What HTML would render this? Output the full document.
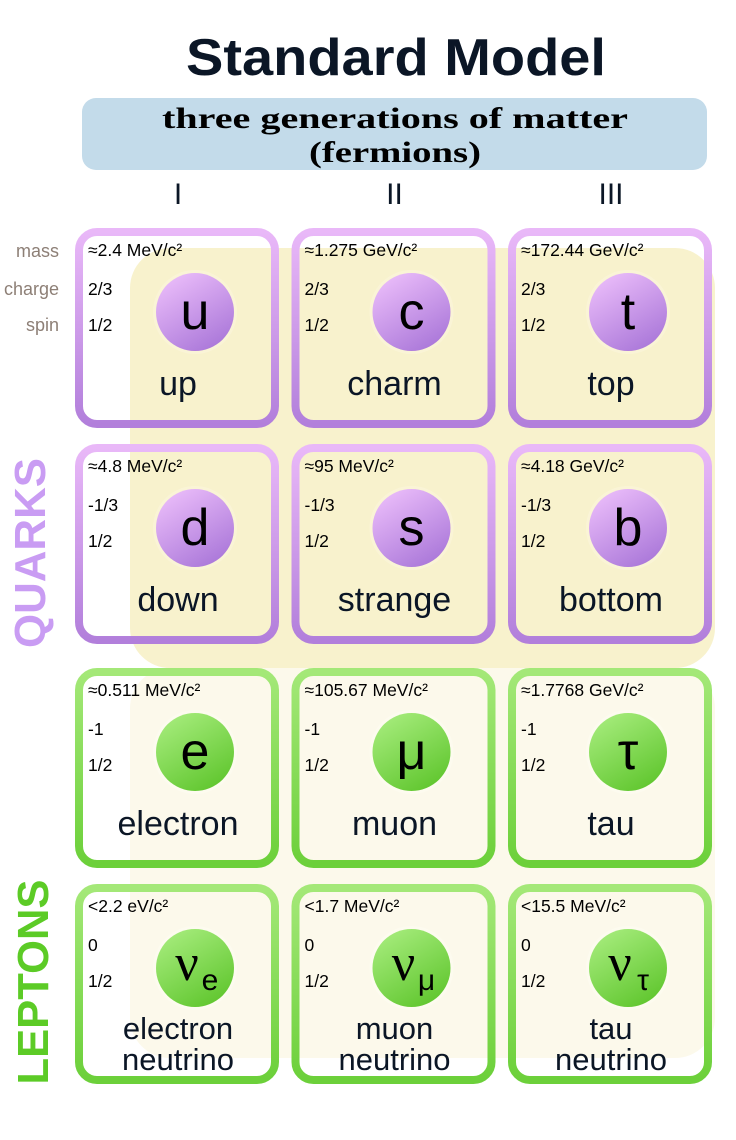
<!DOCTYPE html>
<html><head><meta charset="utf-8"><style>
html,body{margin:0;padding:0;background:#fff;width:736px;height:1140px;overflow:hidden}
svg{display:block}
text{font-family:"Liberation Sans","DejaVu Sans",sans-serif}
</style></head><body>
<svg id="sm" width="736" height="1140" viewBox="0 0 736 1140">
<defs>
<linearGradient id="qb" x1="0" y1="0" x2="0" y2="1"><stop offset="0" stop-color="#e9b8f8"/><stop offset="1" stop-color="#b27fdb"/></linearGradient>
<linearGradient id="lb" x1="0" y1="0" x2="0" y2="1"><stop offset="0" stop-color="#a4e878"/><stop offset="1" stop-color="#6cd03a"/></linearGradient>
<linearGradient id="qc" x1="0.2" y1="0" x2="0.8" y2="1"><stop offset="0" stop-color="#ebbdfa"/><stop offset="1" stop-color="#a875d8"/></linearGradient>
<linearGradient id="lc" x1="0.2" y1="0" x2="0.8" y2="1"><stop offset="0" stop-color="#a6ec7c"/><stop offset="1" stop-color="#5ec52c"/></linearGradient>
</defs>
<text x="396" y="75" text-anchor="middle" font-size="52" font-weight="bold" fill="#0b1626" textLength="420" lengthAdjust="spacingAndGlyphs">Standard Model</text>
<rect x="82" y="98" width="625" height="72" rx="14" fill="#c3dbea"/>
<text x="395" y="128" text-anchor="middle" font-size="30" font-weight="bold" fill="#000" style="font-family:'Liberation Serif',serif" textLength="466" lengthAdjust="spacingAndGlyphs">three generations of matter</text>
<text x="395" y="162" text-anchor="middle" font-size="30" font-weight="bold" fill="#000" style="font-family:'Liberation Serif',serif" textLength="172" lengthAdjust="spacingAndGlyphs">(fermions)</text>
<rect x="130" y="248" width="585" height="420" rx="40" fill="#f8f2cd"/>
<rect x="130" y="668" width="585" height="390" rx="40" fill="#fcf9eb"/>
<text x="45" y="553" text-anchor="middle" font-size="44" font-weight="bold" fill="#c99cf3" transform="rotate(-90 45 553)" textLength="190" lengthAdjust="spacingAndGlyphs">QUARKS</text>
<text x="48" y="982" text-anchor="middle" font-size="44" font-weight="bold" fill="#5ccb26" transform="rotate(-90 48 982)" textLength="205" lengthAdjust="spacingAndGlyphs">LEPTONS</text>
<g font-size="18" fill="#8d7f76" text-anchor="end">
<text x="59" y="257">mass</text>
<text x="59" y="295">charge</text>
<text x="59" y="331">spin</text>
</g>
<g id="cards"></g>
</svg>
<script>
const generations=["I","II","III"];
const names=[["up","charm","top"],["down","strange","bottom"],["electron","muon","tau"],["electron\nneutrino","muon\nneutrino","tau\nneutrino"]];
const symbols=[["u","c","t"],["d","s","b"],["e","μ","τ"],["ν|e","ν|μ","ν|τ"]];
const masses=[["≈2.4 MeV/c²","≈1.275 GeV/c²","≈172.44 GeV/c²"],["≈4.8 MeV/c²","≈95 MeV/c²","≈4.18 GeV/c²"],["≈0.511 MeV/c²","≈105.67 MeV/c²","≈1.7768 GeV/c²"],["<2.2 eV/c²","<1.7 MeV/c²","<15.5 MeV/c²"]];
const charges=["2/3","-1/3","-1","0"];
const spins=["1/2","1/2","1/2","1/2"];
const NS="http://www.w3.org/2000/svg";
const g=document.getElementById('cards');
const svg=document.getElementById('sm');
function colX(c){return 75+c*216.5;}
function rowY(r){return [228,444,668,884][r];}
function mk(tag,attrs,parent){const e=document.createElementNS(NS,tag);for(const k in attrs)e.setAttribute(k,attrs[k]);parent.appendChild(e);return e;}
generations.forEach((gn,c)=>{
  const t=mk('text',{x:colX(c)+103,y:204,'text-anchor':'middle','font-size':'30',fill:'#0b1626'},svg);
  
  
  t.textContent=gn;
});
names.forEach((row,r)=>{
  const lep=r>=2;
  row.forEach((nm,c)=>{
    const x=colX(c),y=rowY(r);
    const grp=mk('g',{},g);
    
    
    mk('rect',{x:x+4,y:y+4,width:196,height:192,rx:18,fill:'none',stroke:lep?'url(#lb)':'url(#qb)','stroke-width':8},grp);
    const m=mk('text',{x:x+13,y:y+28,'font-size':'17.5',fill:'#000'},grp);m.textContent=masses[r][c];
    
    
    const q=mk('text',{x:x+13,y:y+67,'font-size':'17.5',fill:'#000'},grp);q.textContent=charges[r];
    
    
    const s=mk('text',{x:x+13,y:y+103,'font-size':'17.5',fill:'#000'},grp);s.textContent=spins[r];
    
    
    const cx=x+120,cy=y+84;
    mk('circle',{cx:cx,cy:cy,r:42,fill:lep?'#fdfbef':'#faf4d6'},grp);
    const ci=mk('circle',{cx:cx,cy:cy,r:39,fill:lep?'url(#lc)':'url(#qc)'},grp);
    
    
    const parts=symbols[r][c].split('|');
    if(parts.length===1){
      const sy=mk('text',{x:cx,y:cy+17,'text-anchor':'middle','font-size':'52',fill:'#000'},grp);sy.textContent=parts[0];
      
      
    }else{
      const sy=mk('text',{x:cx-8,y:cy+12,'text-anchor':'middle','font-size':'52',fill:'#000',style:"font-family:'Liberation Serif',serif"},grp);sy.textContent=parts[0];
      
      
      const sb=mk('text',{x:cx+15,y:cy+22,'text-anchor':'middle','font-size':'30',fill:'#000'},grp);sb.textContent=parts[1];
      
      
    }
    const lines=nm.split('\n');
    lines.forEach((ln,i)=>{
      const ny=lines.length===1?y+167:y+155+i*31;
      const n=mk('text',{x:x+103,y:ny,'text-anchor':'middle','font-size':lines.length===1?'34':'31',fill:'#0b1626'},grp);n.textContent=ln;
      
      
    });
  });
});
</script>
</body></html>
